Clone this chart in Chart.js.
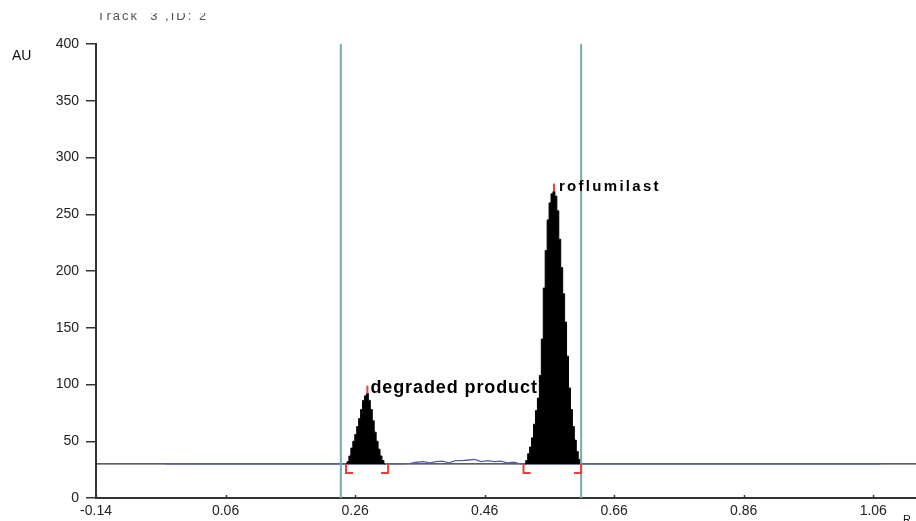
<!DOCTYPE html>
<html>
<head>
<meta charset="utf-8">
<script src="https://cdn.jsdelivr.net/npm/chart.js@4.4.1/dist/chart.umd.min.js"></script>
<style>
  html, body { margin: 0; padding: 0; background: #fff; }
</style>
</head>
<body>
<canvas id="densitogram" width="916" height="521"></canvas>
<script>
// x axis: Rf, y axis: AU
const xTicks = [-0.14, 0.06, 0.26, 0.46, 0.66, 0.86, 1.06];
const baselineAU = 30;
const baselineRf = [-0.14, 1.126];
const traceRange = [-0.033, 1.071];

const peak1Rf = [0.246, 0.249, 0.252, 0.255, 0.258, 0.261, 0.264, 0.267, 0.270, 0.273, 0.276,
                 0.279, 0.282, 0.285, 0.288, 0.291, 0.294, 0.297, 0.300, 0.303, 0.306];
const peak1AU = [30, 32, 37, 44, 50, 56, 63, 70, 78, 86, 90,
                 92, 86, 78, 68, 58, 50, 43, 37, 33, 30];

const peak2Rf = [0.522, 0.525, 0.528, 0.531, 0.534, 0.537, 0.540, 0.543, 0.546, 0.549,
                 0.552, 0.555, 0.558, 0.561, 0.564, 0.567, 0.570, 0.573, 0.576, 0.579,
                 0.582, 0.585, 0.588, 0.591, 0.594, 0.597, 0.600, 0.603, 0.606, 0.609];
const peak2AU = [30, 33, 39, 45, 53, 65, 77, 88, 108, 140,
                 185, 218, 245, 260, 268, 270, 266, 253, 228, 203,
                 180, 155, 125, 97, 78, 63, 51, 41, 34, 30];

const noiseRf = [0.306, 0.33, 0.345, 0.355, 0.365, 0.375, 0.385, 0.395, 0.405, 0.415, 0.425,
                 0.435, 0.445, 0.45, 0.455, 0.465, 0.475, 0.485, 0.495, 0.505, 0.515, 0.522];
const noiseAU = [30, 30, 30.5, 31.5, 32, 31, 32, 32.5, 31, 33, 33,
                 33.5, 34, 33, 32, 33, 32, 32.5, 31, 31.5, 30, 30];

const windowRf = [0.238, 0.609];
const peakNames = ["degraded product", "roflumilast"];
const peakTopRf = [0.279, 0.567];
const peakTopAU = [92, 270];
const bracketRf = [0.246, 0.311, 0.520, 0.609];
const bracketDir = [1, -1, 1, -1];

const pts = (xs, ys) => xs.map((x, i) => ({ x: x, y: ys[i] }));

const datasets = [];
peakTopRf.forEach((rf, i) => {
  datasets.push({ data: [{ x: rf, y: peakTopAU[i] }, { x: rf, y: peakTopAU[i] + 7 }],
    borderColor: "#e8403a", borderWidth: 2 });
});
bracketRf.forEach((rf, i) => {
  datasets.push({ data: [{ x: rf, y: baselineAU }, { x: rf, y: baselineAU - 8 },
      { x: rf + bracketDir[i] * 0.011, y: baselineAU - 8 }],
    borderColor: "#e8403a", borderWidth: 2 });
});
windowRf.forEach(rf => {
  datasets.push({ data: [{ x: rf, y: 0 }, { x: rf, y: 400 }],
    borderColor: "#72aeae", borderWidth: 2 });
});
[[peak1Rf, peak1AU], [peak2Rf, peak2AU]].forEach(([xs, ys]) => {
  datasets.push({ data: pts(xs, ys), stepped: "middle", borderColor: "#000", borderWidth: 1,
    backgroundColor: "#000", fill: { value: baselineAU } });
});
datasets.push({ data: pts([traceRange[0], ...noiseRf, traceRange[1]], [baselineAU, ...noiseAU, baselineAU]),
  borderColor: "#5262ad", borderWidth: 1.3 });
datasets.push({ data: baselineRf.map(x => ({ x: x, y: baselineAU })),
  borderColor: "#2a2a2a", borderWidth: 1.3 });

const annotate = {
  id: "annotate",
  afterDraw(chart) {
    const ctx = chart.ctx;
    const xs = chart.scales.x, ys = chart.scales.y;
    ctx.save();
    // small x tick marks above the axis
    ctx.strokeStyle = "#333";
    ctx.lineWidth = 1.5;
    xTicks.forEach(v => {
      const px = Math.round(xs.getPixelForValue(v)) + 0.5;
      ctx.beginPath();
      ctx.moveTo(px, ys.bottom);
      ctx.lineTo(px, ys.bottom - 3);
      ctx.stroke();
    });
    ctx.fillStyle = "#000";
    ctx.textBaseline = "alphabetic";
    ctx.font = "bold 18px Arial, 'Liberation Sans'";
    ctx.letterSpacing = "0.9px";
    ctx.fillText(peakNames[0], xs.getPixelForValue(peakTopRf[0]) + 3, ys.getPixelForValue(peakTopAU[0]) - 1);
    ctx.font = "bold 15px Arial, 'Liberation Sans'";
    ctx.letterSpacing = "2.3px";
    ctx.fillText(peakNames[1], xs.getPixelForValue(peakTopRf[1]) + 5, ys.getPixelForValue(peakTopAU[1]) - 1);
    ctx.letterSpacing = "0px";
    ctx.font = "14px Arial, 'Liberation Sans'";
    ctx.fillStyle = "#111";
    ctx.fillText("AU", 12, 60);
    ctx.font = "11px Arial, 'Liberation Sans'";
    ctx.fillText("R", 903, 523);
    // title cut off at the top edge
    ctx.beginPath();
    ctx.rect(0, 13, 400, 20);
    ctx.clip();
    ctx.fillStyle = "#555";
    ctx.font = "13px Arial, 'Liberation Sans'";
    ctx.letterSpacing = "2px";
    ctx.fillText("Track  3 ,ID: 2", 97, 20);
    ctx.restore();
  }
};

new Chart(document.getElementById("densitogram"), {
  type: "line",
  data: { datasets: datasets },
  options: {
    responsive: false,
    animation: false,
    layout: { padding: { top: 44, left: 0, right: 0, bottom: 0 } },
    elements: { point: { radius: 0 }, line: { tension: 0 } },
    plugins: { legend: { display: false }, tooltip: { enabled: false } },
    scales: {
      x: {
        type: "linear",
        min: -0.14,
        max: 1.126,
        afterBuildTicks: s => { s.ticks = xTicks.map(v => ({ value: v })); },
        afterFit: s => { s.height = 23; },
        ticks: { callback: v => v.toFixed(2), color: "#222", maxRotation: 0, autoSkip: false, padding: 5,
          font: { size: 14, family: "Arial, 'Liberation Sans'" } },
        grid: { drawOnChartArea: false, drawTicks: false },
        border: { color: "#333", width: 2 }
      },
      y: {
        min: 0,
        max: 400,
        afterFit: s => { s.width = 96; },
        ticks: { stepSize: 50, color: "#222", padding: 7,
          font: { size: 14, family: "Arial, 'Liberation Sans'" } },
        grid: { drawOnChartArea: false, drawTicks: true, tickLength: 10, color: "#333", lineWidth: 1.5 },
        border: { color: "#333", width: 2 }
      }
    }
  },
  plugins: [annotate]
});
</script>
</body>
</html>
